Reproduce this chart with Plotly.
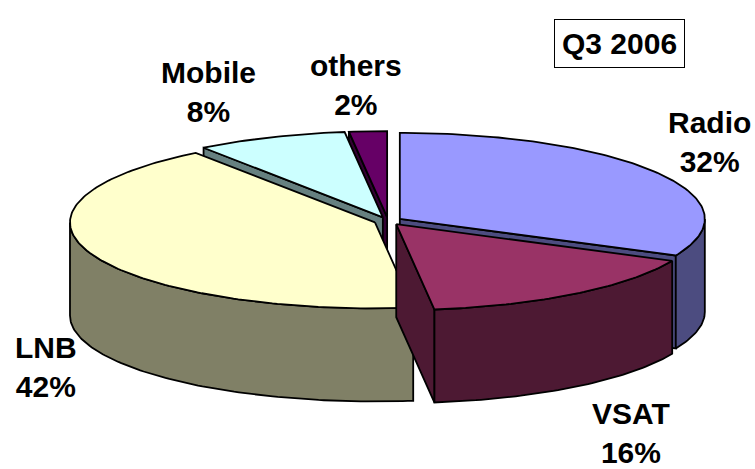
import numpy as np
import plotly.graph_objects as go

# ---- data ----
labels = ["Radio", "VSAT", "LNB", "Mobile", "others"]
shares = [32, 16, 42, 8, 2]
title_text = "Q3 2006"

# ---- styling / layout ----
top_colors = ["#9999FF", "#993366", "#FFFFCC", "#CCFFFF", "#660066"]
side_colors = ["#4C4C80", "#4D1933", "#808066", "#668080", "#330033"]
label_pos = [(709, 142), (631, 433), (46, 367), (208, 92), (356, 85)]

CX, CY, RX, RY, DEPTH, PULL = 388, 221, 305, 86, 93, 14
FONT = "Liberation Sans, Arial, sans-serif"
FSIZE = 30

total = float(sum(shares))
ends = np.cumsum(shares) / total * 360.0
starts = np.concatenate([[0.0], ends[:-1]])


def rim(theta_deg, ox, oy, z=0.0):
    t = np.radians(theta_deg)
    return ox + RX * np.sin(t), oy - RY * np.cos(t) + z


fig = go.Figure()


def add_poly(xs, ys, color, name):
    fig.add_trace(go.Scatter(
        x=list(xs) + [xs[0]], y=list(ys) + [ys[0]], mode="lines",
        fill="toself", fillcolor=color,
        line=dict(color="black", width=1.8),
        name=name, hoverinfo="name", showlegend=False))


mids = (starts + ends) / 2.0
order = sorted(range(len(shares)), key=lambda i: -np.cos(np.radians(mids[i])))

for i in order:
    s, e, m = starts[i], ends[i], mids[i]
    ox = CX + PULL * np.sin(np.radians(m))
    oy = CY - PULL * (RY / RX) * np.cos(np.radians(m))
    name = f"{labels[i]} {shares[i]}%"
    # radial cut faces
    for ang, vis in ((s, np.sin(np.radians(s)) < -1e-6), (e, np.sin(np.radians(e)) > 1e-6)):
        if vis:
            rx_, ry_ = rim(ang, ox, oy)
            add_poly([ox, rx_, rx_, ox], [oy, ry_, ry_ + DEPTH, oy + DEPTH],
                     side_colors[i], name)
    # outer wall
    a0, a1 = max(s, 90.0), min(e, 270.0)
    if a1 > a0:
        th = np.linspace(a0, a1, max(int(a1 - a0) + 2, 3))
        xt, yt = rim(th, ox, oy)
        xb, yb = rim(th[::-1], ox, oy, DEPTH)
        add_poly(np.concatenate([xt, xb]), np.concatenate([yt, yb]),
                 side_colors[i], name)
    # top face
    th = np.linspace(s, e, max(int(e - s) + 2, 3))
    xt, yt = rim(th, ox, oy)
    add_poly(np.concatenate([[ox], xt]), np.concatenate([[oy], yt]),
             top_colors[i], name)

for i, (lx, ly) in enumerate(label_pos):
    fig.add_annotation(x=lx, y=ly, xref="x", yref="y", showarrow=False,
                       text=f"<b>{labels[i]}</b><br><b>{shares[i]}%</b>",
                       align="center",
                       font=dict(family=FONT, size=FSIZE, color="black"))

fig.add_annotation(x=619, y=43, xref="x", yref="y", showarrow=False,
                   text=f"<b>{title_text}</b>", bordercolor="black",
                   borderwidth=1, borderpad=7, bgcolor="white",
                   font=dict(family=FONT, size=FSIZE, color="black"))

fig.update_layout(
    width=755, height=469, margin=dict(l=0, r=0, t=0, b=0),
    paper_bgcolor="white", plot_bgcolor="white",
    xaxis=dict(range=[0, 755], visible=False, fixedrange=True),
    yaxis=dict(range=[469, 0], visible=False, fixedrange=True),
    font=dict(family=FONT),
)

fig.write_html("out.html", config={"displayModeBar": False},
               post_script="document.body.style.margin='0';document.body.style.padding='0';")
